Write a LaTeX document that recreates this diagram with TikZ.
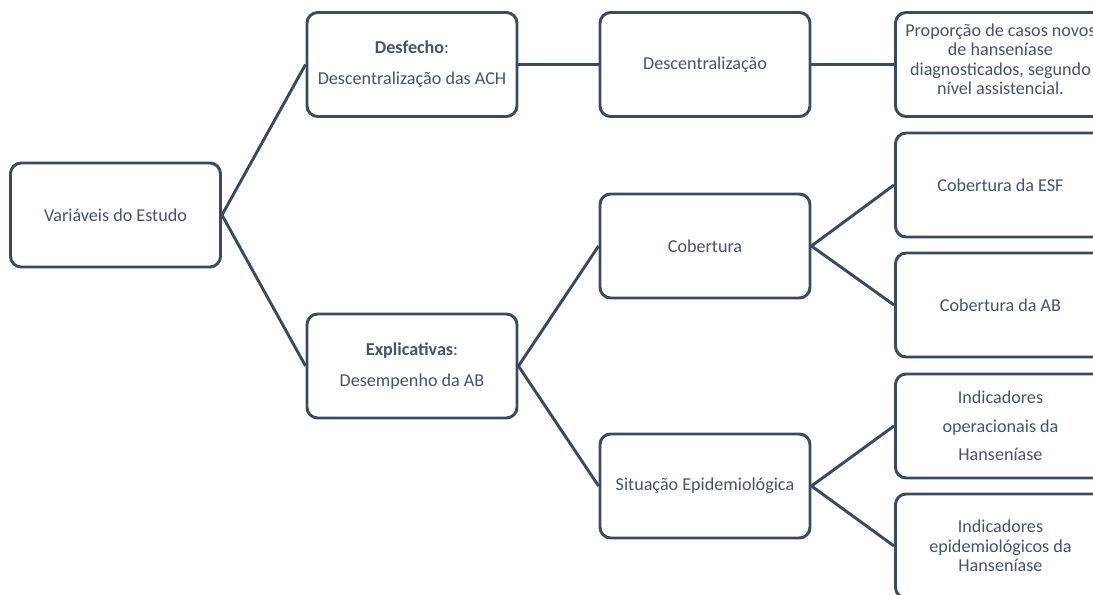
\documentclass[tikz,border=0pt]{standalone}
\usepackage{fontspec}
\setmainfont{Carlito}
\usepackage{xcolor}
\usetikzlibrary{positioning}
\definecolor{BoxFrame}{HTML}{3B4A5E}
\definecolor{BoxText}{HTML}{44546A}
\tikzset{
  varbox/.style={draw=BoxFrame, fill=white, rectangle, rounded corners=8pt,
                 line width=2.2pt, minimum width=157.5pt, minimum height=78pt,
                 font=\fontsize{13.6}{14.6}\selectfont, text=BoxText,
                 align=center},
  link/.style={draw=BoxFrame, line width=2.2pt}
}

\begin{document}
\begin{tikzpicture}[x=0.75pt, y=-0.75pt]
  \clip (0,0) rectangle (1093,595);
  % first level
  \node[varbox] (estudo) at (115.5,215) {Vari\'aveis do Estudo};
  \node[varbox] (desfecho) at (412,64.5) {\textbf{Desfecho}:\\[8.6pt]Descentraliza\c{c}\~ao das ACH};
  \node[varbox] (explic)   at (412,366)  {\textbf{Explicativas}:\\[8.6pt]Desempenho da AB};
  % second level
  \node[varbox] (descent)  at (705,64.5) {Descentraliza\c{c}\~ao};
  \node[varbox] (cobert)   at (705,246)  {Cobertura};
  \node[varbox] (situacao) at (705,486)  {Situa\c{c}\~ao Epidemiol\'ogica};
  % third level
  \node[varbox, anchor=west] (proporcao) at (894,64.5)
    {Propor\c{c}\~ao de casos novos\\de hansen\'iase\\diagnosticados, segundo\\n\'ivel assistencial.\\[-7pt]\mbox{}};
  \node[varbox, anchor=west] (cobesf) at (894,185) {Cobertura da ESF};
  \node[varbox, anchor=west] (cobab)  at (894,305) {Cobertura da AB};
  \node[varbox, anchor=west] (indop)  at (894,426)
    {Indicadores\\[6.8pt]operacionais da\\[6.8pt]Hansen\'iase};
  \node[varbox, anchor=west] (indepi) at (894,546)
    {Indicadores\\epidemiol\'ogicos da\\Hansen\'iase};

  \draw[link] (estudo.east) -- (desfecho.west);
  \draw[link] (estudo.east) -- (explic.west);
  \draw[link] (desfecho.east) -- (descent.west);
  \draw[link] (explic.east) -- (cobert.west);
  \draw[link] (explic.east) -- (situacao.west);
  \draw[link] (descent.east) -- (proporcao.west);
  \draw[link] (cobert.east) -- (cobesf.west);
  \draw[link] (cobert.east) -- (cobab.west);
  \draw[link] (situacao.east) -- (indop.west);
  \draw[link] (situacao.east) -- (indepi.west);
\end{tikzpicture}
\end{document}
